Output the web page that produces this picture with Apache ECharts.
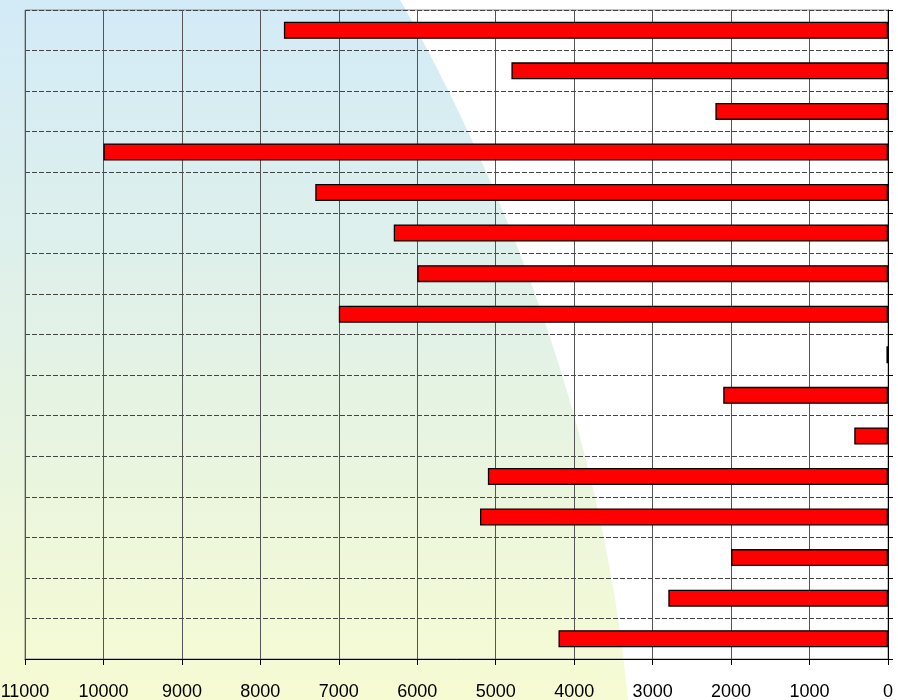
<!DOCTYPE html>
<html>
<head>
<meta charset="utf-8">
<script src="https://cdn.jsdelivr.net/npm/echarts@6/dist/echarts.min.js"></script>
<style>html,body{margin:0;padding:0;background:#fff;}#c{width:898px;height:700px;}</style>
</head>
<body>
<div id="c"></div>
<script>
var categories = ['1','2','3','4','5','6','7','8','9','10','11','12','13','14','15','16'];
var values = [7700, 4800, 2200, 10000, 7300, 6300, 6000, 7000, 20, 2100, 430, 5100, 5200, 2000, 2800, 4200];
var xTicks = [0, 11000, 1000];

// background decoration shape (curved gradient panel)
function bgPoints() {
  var p0 = [400, 0], p1 = [480, 140], p2 = [600, 400], p3 = [628, 700];
  var pts = [[0, 0]];
  for (var i = 0; i <= 60; i++) {
    var t = i / 60, u = 1 - t;
    var a = u * u * u, b = 3 * u * u * t, c = 3 * u * t * t, d = t * t * t;
    pts.push([a * p0[0] + b * p1[0] + c * p2[0] + d * p3[0],
              a * p0[1] + b * p1[1] + c * p2[1] + d * p3[1]]);
  }
  pts.push([0, 700]);
  return pts;
}

var chart = echarts.init(document.getElementById('c'));
chart.setOption({
  animation: false,
  backgroundColor: '#ffffff',
  graphic: [{
    type: 'polygon',
    silent: true,
    z: -100,
    shape: { points: bgPoints() },
    style: {
      fill: {
        type: 'linear', x: 0, y: 0, x2: 0, y2: 1,
        colorStops: [
          { offset: 0, color: '#d3ebf8' },
          { offset: 0.5, color: '#e3f2e6' },
          { offset: 1, color: '#f6fbd2' }
        ]
      }
    }
  }],
  grid: {
    left: 25, right: 10, top: 10, bottom: 41,
    containLabel: false, outerBoundsMode: 'none',
    show: true, borderColor: '#8a8a8a', borderWidth: 1, backgroundColor: 'transparent'
  },
  xAxis: {
    type: 'value',
    inverse: true,
    min: xTicks[0], max: xTicks[1], interval: xTicks[2],
    axisLine: { show: true, lineStyle: { color: '#000', width: 1 } },
    axisTick: { show: true, length: 6, lineStyle: { color: '#000' } },
    axisLabel: { color: '#000', fontSize: 18, fontFamily: 'Liberation Sans', margin: 24,
      formatter: function (v) { return String(v); } },
    splitLine: { show: true, lineStyle: { color: '#555', width: 1 } }
  },
  yAxis: {
    type: 'category',
    data: categories,
    inverse: true,
    position: 'right',
    axisLine: { show: true, lineStyle: { color: '#000', width: 1 } },
    axisTick: { show: true, length: 5, inside: false, lineStyle: { color: '#000' } },
    axisLabel: { show: false },
    splitLine: { show: true, lineStyle: { color: '#444', width: 1, type: [5, 2] } }
  },
  series: [{
    type: 'bar',
    data: values,
    barWidth: 17,
    itemStyle: { color: '#ff0000', borderColor: '#000', borderWidth: 1.3 }
  }]
});
</script>
</body>
</html>
